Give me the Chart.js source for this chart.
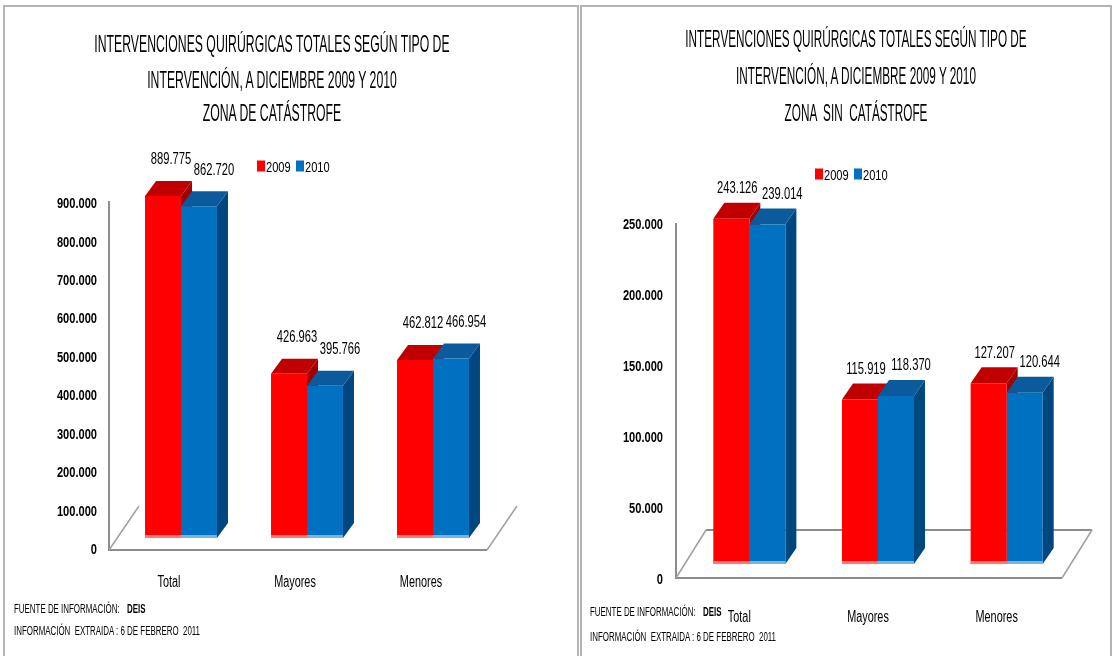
<!DOCTYPE html>
<html lang="es">
<head>
<meta charset="UTF-8">
<title>Intervenciones quirúrgicas 2009 - 2010</title>
<script src="https://cdn.jsdelivr.net/npm/chart.js"></script>
<style>
    body {
        margin: 0;
        width: 1114px;
        height: 656px;
        overflow: hidden;
        background: #fff;
        position: relative;
        font-family: "Liberation Sans", Arial, sans-serif;
        color: #000;
    }
    .box {
        position: absolute;
        height: 700px;
        border: 2px solid #b4b4b4;
        box-sizing: border-box;
    }
    canvas {
        position: absolute;
        top: 0;
    }
    .t {
        position: absolute;
        white-space: nowrap;
        font-size: 24px;
        line-height: 1;
        transform: translate(-50%, -50%) scaleX(0.51);
    }
    .foot {
        position: absolute;
        white-space: nowrap;
        font-size: 12px;
        line-height: 1;
        transform-origin: left center;
        transform: translateY(-50%) scaleX(0.66);
    }
    .foot b { margin-left: 8px; }
    .legend {
        position: absolute;
        white-space: nowrap;
        font-size: 15px;
        line-height: 1;
        transform: translateY(-50%);
        display: flex;
        align-items: center;
    }
    .legend span.sq {
        display: inline-block;
        width: 8px;
        height: 11px;
        margin-right: 1px;
    }
    .legend span.lb {
        display: inline-block;
        width: 26px;
        margin-right: 4px;
    }
    .legend span.lb i {
        display: inline-block;
        font-style: normal;
        transform-origin: left center;
        transform: scaleX(0.74);
    }
</style>
</head>
<body>
<div class="box" style="left:3px; top:5px; width:576px;"></div>
<div class="box" style="left:580px; top:5px; width:532px;"></div>

<canvas id="chartCat" width="580" height="656" style="left:0"></canvas>
<canvas id="chartSin" width="534" height="656" style="left:580px"></canvas>

<!-- titulos -->
<div class="t" style="left:272px; top:44px;">INTERVENCIONES QUIRÚRGICAS TOTALES SEGÚN TIPO DE</div>
<div class="t" style="left:272px; top:80px;">INTERVENCIÓN, A DICIEMBRE 2009 Y 2010</div>
<div class="t" style="left:272px; top:113px;">ZONA DE CATÁSTROFE</div>

<div class="t" style="left:856px; top:39px; transform: translate(-50%,-50%) scaleX(0.49);">INTERVENCIONES QUIRÚRGICAS TOTALES SEGÚN TIPO DE</div>
<div class="t" style="left:856px; top:76px; transform: translate(-50%,-50%) scaleX(0.49);">INTERVENCIÓN, A DICIEMBRE 2009 Y 2010</div>
<div class="t" style="left:856px; top:113px; transform: translate(-50%,-50%) scaleX(0.49);">ZONA &nbsp;SIN &nbsp;CATÁSTROFE</div>

<div class="legend" id="legCat" style="left:257px; top:166px;"></div>
<div class="legend" id="legSin" style="left:815px; top:174px;"></div>

<!-- fuente -->
<div class="foot" style="left:14px; top:609px;">FUENTE DE INFORMACIÓN: <b>DEIS</b></div>
<div class="foot" style="left:14px; top:631px;">INFORMACIÓN &nbsp;EXTRAIDA : 6 DE FEBRERO &nbsp;2011</div>
<div class="foot" style="left:590px; top:612px;">FUENTE DE INFORMACIÓN: <b>DEIS</b></div>
<div class="foot" style="left:590px; top:637px;">INFORMACIÓN &nbsp;EXTRAIDA : 6 DE FEBRERO &nbsp;2011</div>

<script>
    // datos
    const categories = ['Total', 'Mayores', 'Menores'];
    const seriesNames = ['2009', '2010'];
    const catastrofe2009 = [889775, 426963, 462812];
    const catastrofe2010 = [862720, 395766, 466954];
    const sinCatastrofe2009 = [243126, 115919, 127207];
    const sinCatastrofe2010 = [239014, 118370, 120644];
    const ticksCatastrofe = { max: 900000, step: 100000 };
    const ticksSinCatastrofe = { max: 250000, step: 50000 };

    const FONT = '"Liberation Sans", Arial, sans-serif';
    const front = ['#ff0000', '#0070c0'];
    const top3d = ['#c00000', '#0b5a9c'];
    const side3d = ['#a00000', '#00467f'];
    const strip = ['#ff7878', '#78b4e2'];

    // formato 889.775
    function fmt(v) {
        return String(v).replace(/\B(?=(\d{3})+(?!\d))/g, '.');
    }

    function buildLegend(id) {
        const el = document.getElementById(id);
        el.innerHTML = seriesNames.map((n, i) =>
            '<span class="sq" style="background:' + front[i] + '"></span><span class="lb"><i>' + n + '</i></span>'
        ).join('');
    }
    buildLegend('legCat');
    buildLegend('legSin');

    // texto angosto (el original viene comprimido)
    function narrowText(ctx, text, x, y, font, sx, align) {
        ctx.save();
        ctx.translate(x, y);
        ctx.scale(sx, 1);
        ctx.font = font;
        ctx.fillStyle = '#000';
        ctx.textAlign = align;
        ctx.textBaseline = 'middle';
        ctx.fillText(text, 0, 0);
        ctx.restore();
    }

    // caras 3D, piso, ejes y etiquetas
    const bars3d = {
        id: 'bars3d',
        beforeDatasetsDraw(chart, args, o) {
            const ctx = chart.ctx;
            const a = chart.chartArea;
            const y = chart.scales.y;
            const ax = a.left - o.axisInset;
            const fy = y.getPixelForValue(0) + o.floorDrop;
            const fr = a.right - o.axisInset;
            const [ddx, ddy] = o.floorDepth;

            ctx.save();
            ctx.strokeStyle = '#8c8c8c';
            ctx.lineWidth = 2;
            ctx.beginPath();
            ctx.moveTo(ax, y.getPixelForValue(y.max) + o.axisTop);
            ctx.lineTo(ax, fy);
            ctx.lineTo(fr, fy);
            if (o.backLine) {
                ctx.moveTo(ax + ddx, fy + ddy);
                ctx.lineTo(fr + ddx, fy + ddy);
            }
            ctx.stroke();
            ctx.strokeStyle = '#a0a0a0';
            ctx.lineWidth = 1.5;
            ctx.beginPath();
            ctx.moveTo(ax, fy);
            ctx.lineTo(ax + ddx, fy + ddy);
            ctx.moveTo(fr, fy);
            ctx.lineTo(fr + ddx, fy + ddy);
            ctx.stroke();

            const [dx, dy] = o.depth;
            const metas = chart.data.datasets.map((d, i) => chart.getDatasetMeta(i));
            for (let i = 0; i < categories.length; i++) {
                metas.forEach((meta, d) => {
                    const b = meta.data[i];
                    const l = b.x - b.width / 2, r = b.x + b.width / 2;
                    ctx.fillStyle = side3d[d];
                    ctx.beginPath();
                    ctx.moveTo(r, b.y);
                    ctx.lineTo(r + dx, b.y + dy);
                    ctx.lineTo(r + dx, b.base + dy);
                    ctx.lineTo(r, b.base);
                    ctx.closePath();
                    ctx.fill();
                    ctx.fillStyle = top3d[d];
                    ctx.beginPath();
                    ctx.moveTo(l, b.y);
                    ctx.lineTo(r, b.y);
                    ctx.lineTo(r + dx, b.y + dy);
                    ctx.lineTo(l + dx, b.y + dy);
                    ctx.closePath();
                    ctx.fill();
                });
            }
            ctx.restore();
        },
        afterDatasetsDraw(chart, args, o) {
            const ctx = chart.ctx;
            chart.data.datasets.forEach((ds, d) => {
                chart.getDatasetMeta(d).data.forEach((b, i) => {
                    ctx.fillStyle = strip[d];
                    ctx.fillRect(b.x - b.width / 2, b.base - 3, b.width, 3);
                    narrowText(ctx, fmt(ds.data[i]), b.x + o.labelShift[d], b.y - o.labelRise,
                        '16px ' + FONT, 0.7, 'center');
                });
            });
        },
        afterDraw(chart, args, o) {
            const ctx = chart.ctx;
            const a = chart.chartArea;
            const y = chart.scales.y, x = chart.scales.x;
            y.ticks.forEach((t, i) => {
                narrowText(ctx, fmt(t.value), a.left - o.yPad, y.getPixelForTick(i) + o.tickOffset,
                    'bold 15px ' + FONT, 0.74, 'right');
            });
            x.ticks.forEach((t, i) => {
                narrowText(ctx, categories[i], x.getPixelForTick(i) + o.xLabelOffset, a.bottom + o.xLabelY,
                    '16px ' + FONT, 0.68, 'center');
            });
        }
    };

    function createChart(canvasId, values2009, values2010, ticks, g) {
        const ctx = document.getElementById(canvasId).getContext('2d');
        return new Chart(ctx, {
            type: 'bar',
            data: {
                labels: categories,
                datasets: [
                    { label: seriesNames[0], data: values2009, backgroundColor: front[0] },
                    { label: seriesNames[1], data: values2010, backgroundColor: front[1] }
                ]
            },
            options: {
                responsive: false,
                animation: false,
                layout: { padding: { left: 0, top: g.padTop, right: g.padRight, bottom: 0 } },
                datasets: { bar: { categoryPercentage: g.catPct, barPercentage: 1, borderWidth: 0 } },
                plugins: {
                    legend: { display: false },
                    tooltip: { enabled: false },
                    bars3d: g
                },
                scales: {
                    x: {
                        grid: { display: false, drawTicks: false },
                        border: { display: false },
                        ticks: { display: false },
                        afterFit(s) { s.height = g.xHeight; }
                    },
                    y: {
                        min: 0,
                        max: ticks.max,
                        grid: { display: false, drawTicks: false },
                        border: { display: false },
                        ticks: { display: false, stepSize: ticks.step },
                        afterFit(s) { s.width = g.yWidth; }
                    }
                }
            },
            plugins: [bars3d]
        });
    }

    createChart('chartCat', catastrofe2009, catastrofe2010, ticksCatastrofe, {
        padTop: 192, padRight: 84, xHeight: 118, yWidth: 118, yPad: 21,
        catPct: 0.571, xLabelY: 45, xLabelOffset: -12, tickOffset: 12,
        axisInset: 9, floorDrop: 12, axisTop: 9, floorDepth: [30, -44], backLine: false,
        depth: [11, -15], labelShift: [8, 15], labelRise: 36
    });

    createChart('chartSin', sinCatastrofe2009, sinCatastrofe2010, ticksSinCatastrofe, {
        padTop: 209, padRight: 43, xHeight: 92, yWidth: 105, yPad: 22,
        catPct: 0.56, xLabelY: 54, xLabelOffset: -10, tickOffset: 16,
        axisInset: 9, floorDrop: 14, axisTop: 14, floorDepth: [30, -48], backLine: true,
        depth: [11, -16], labelShift: [6, 15], labelRise: 30
    });
</script>
</body>
</html>
